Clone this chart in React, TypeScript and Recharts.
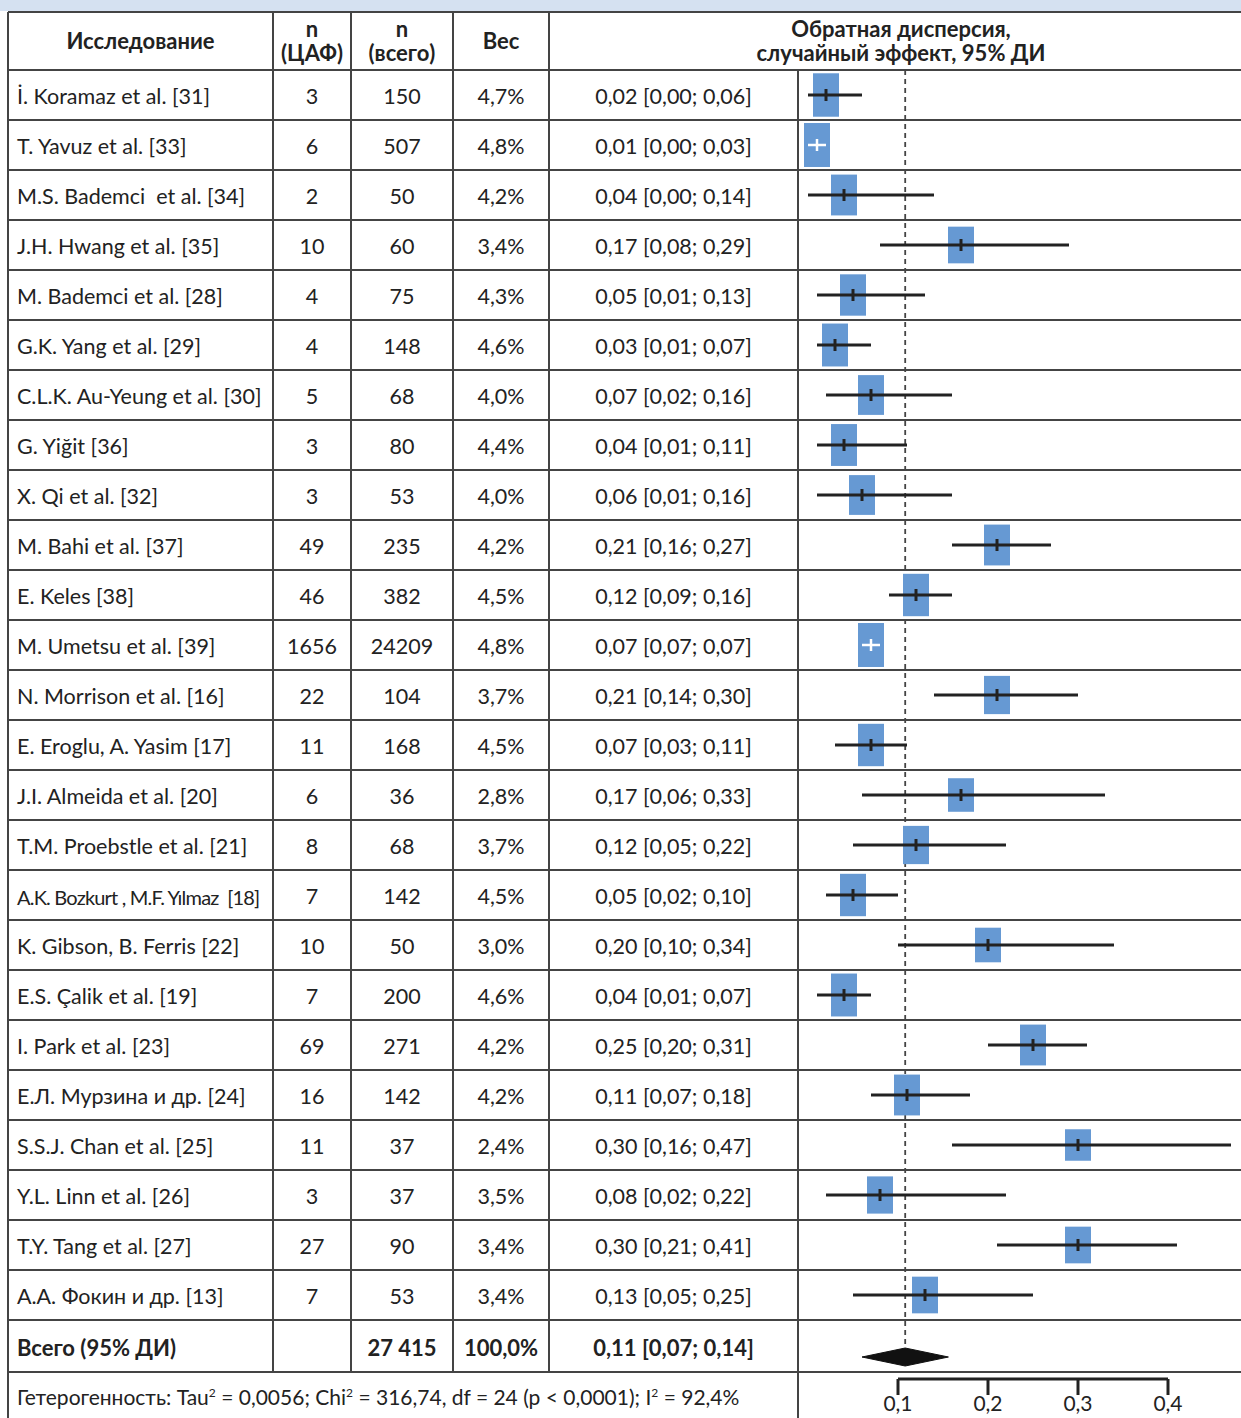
import React from "react";
import { ComposedChart, Scatter, XAxis, YAxis, ReferenceLine } from "recharts";

const studies = [
  "İ. Koramaz et al. [31]",
  "T. Yavuz et al. [33]",
  "M.S. Bademci  et al. [34]",
  "J.H. Hwang et al. [35]",
  "M. Bademci et al. [28]",
  "G.K. Yang et al. [29]",
  "C.L.K. Au-Yeung et al. [30]",
  "G. Yiğit [36]",
  "X. Qi et al. [32]",
  "M. Bahi et al. [37]",
  "E. Keles [38]",
  "M. Umetsu et al. [39]",
  "N. Morrison et al. [16]",
  "E. Eroglu, A. Yasim [17]",
  "J.I. Almeida et al. [20]",
  "T.M. Proebstle et al. [21]",
  "A.K. Bozkurt , M.F. Yılmaz  [18]",
  "K. Gibson, B. Ferris [22]",
  "E.S. Çalik et al. [19]",
  "I. Park et al. [23]",
  "Е.Л. Мурзина и др. [24]",
  "S.S.J. Chan et al. [25]",
  "Y.L. Linn et al. [26]",
  "T.Y. Tang et al. [27]",
  "А.А. Фокин и др. [13]",
];
const nCaf = [3, 6, 2, 10, 4, 4, 5, 3, 3, 49, 46, 1656, 22, 11, 6, 8, 7, 10, 7, 69, 16, 11, 3, 27, 7];
const nTotal = [150, 507, 50, 60, 75, 148, 68, 80, 53, 235, 382, 24209, 104, 168, 36, 68, 142, 50, 200, 271, 142, 37, 37, 90, 53];
const weights = [4.7, 4.8, 4.2, 3.4, 4.3, 4.6, 4.0, 4.4, 4.0, 4.2, 4.5, 4.8, 3.7, 4.5, 2.8, 3.7, 4.5, 3.0, 4.6, 4.2, 4.2, 2.4, 3.5, 3.4, 3.4];
const estimates = [0.02, 0.01, 0.04, 0.17, 0.05, 0.03, 0.07, 0.04, 0.06, 0.21, 0.12, 0.07, 0.21, 0.07, 0.17, 0.12, 0.05, 0.2, 0.04, 0.25, 0.11, 0.3, 0.08, 0.3, 0.13];
const lower = [0.0, 0.0, 0.0, 0.08, 0.01, 0.01, 0.02, 0.01, 0.01, 0.16, 0.09, 0.07, 0.14, 0.03, 0.06, 0.05, 0.02, 0.1, 0.01, 0.2, 0.07, 0.16, 0.02, 0.21, 0.05];
const upper = [0.06, 0.03, 0.14, 0.29, 0.13, 0.07, 0.16, 0.11, 0.16, 0.27, 0.16, 0.07, 0.3, 0.11, 0.33, 0.22, 0.1, 0.34, 0.07, 0.31, 0.18, 0.47, 0.22, 0.41, 0.25];

// pooled result as printed, and the diamond as drawn (lo, est, hi)
const pooledText = [0.11, 0.07, 0.14];
const pooledDiamond = [0.06, 0.108, 0.156];
const axisTicks = [0.1, 0.2, 0.3, 0.4];

const FONT = "Lato, 'Open Sans', sans-serif";
const LINE = "#444";
const BOX = "#6699d3";
const INK = "#222";

const ROW_H = 50;
const BODY_TOP = 70;
const HEAD_TOP = 12;
const colX = [8, 273, 351, 453, 549, 798];

const dec = (v: number, d: number) => v.toFixed(d).replace(".", ",");

const points = estimates.map((est, i) => ({
  x: est,
  y: i + 0.5,
  w: weights[i],
  inside: upper[i] - lower[i] <= 0.03,
}));
const whitePts = points.filter((p) => p.inside);

// three points per study (lo, est, hi) for the CI lines
const ciPts = estimates.flatMap((est, i) =>
  upper[i] - lower[i] <= 0.03
    ? []
    : [
        { x: lower[i], y: i + 0.5, kind: "lo" },
        { x: est, y: i + 0.5, kind: "est" },
        { x: upper[i], y: i + 0.5, kind: "hi" },
      ]
);

const totalRowY = studies.length; // 25
const diamondPts = [
  { x: pooledDiamond[0], y: totalRowY + 0.74 },
  { x: pooledDiamond[1], y: totalRowY + 0.56 },
  { x: pooledDiamond[2], y: totalRowY + 0.74 },
  { x: pooledDiamond[1], y: totalRowY + 0.92 },
];

const BoxShape = (props: any) => {
  const { cx, cy, payload } = props;
  const w = 26;
  const h = 19 + payload.w * 5.2;
  return <rect x={cx - w / 2} y={cy - h / 2} width={w} height={h} fill={BOX} />;
};

const TickShape = (props: any) => {
  const { cx, cy, payload } = props;
  if (payload.kind !== "est") return <g />;
  return <line x1={cx} x2={cx} y1={cy - 6} y2={cy + 6} stroke={INK} strokeWidth={3} />;
};

const CISegments = (props: any) => {
  const pts = props.points || [];
  const segs = [];
  for (let k = 0; k + 2 < pts.length; k += 3) {
    segs.push(
      <line key={k} x1={pts[k].x} x2={pts[k + 2].x} y1={pts[k].y} y2={pts[k + 2].y} stroke={INK} strokeWidth={2.8} />
    );
  }
  return <g>{segs}</g>;
};

const CrossShape = (props: any) => {
  const { cx, cy } = props;
  return (
    <g stroke="#fff" strokeWidth={2.5}>
      <line x1={cx - 9} x2={cx + 9} y1={cy} y2={cy} />
      <line x1={cx} x2={cx} y1={cy - 6} y2={cy + 6} />
    </g>
  );
};

const Diamond = (props: any) => {
  const pts = (props.points || []).map((p: any) => `${p.x},${p.y}`).join(" ");
  return <polygon points={pts} fill="#111" stroke="#111" />;
};

const Cell = ({ x1, x2, y, h, align = "center", bold = false, children, size = 21.5, spacing = 0, shift = 2 }: any) => (
  <div
    style={{
      position: "absolute",
      left: x1,
      top: y + shift,
      width: x2 - x1,
      height: h,
      display: "flex",
      alignItems: "center",
      justifyContent: align === "left" ? "flex-start" : "center",
      paddingLeft: align === "left" ? 9 : 0,
      boxSizing: "border-box",
      fontFamily: FONT,
      fontSize: size,
      fontWeight: bold ? 700 : 400,
      letterSpacing: spacing,
      color: INK,
      whiteSpace: "pre",
      textAlign: "center",
      lineHeight: 1.1,
    }}
  >
    {children}
  </div>
);

const HLine = ({ y, x1, x2 }: any) => (
  <div style={{ position: "absolute", left: x1, top: y - 1, width: x2 - x1, height: 2, background: LINE }} />
);
const VLine = ({ x, y1, y2 }: any) => (
  <div style={{ position: "absolute", left: x - 1, top: y1, width: 2, height: y2 - y1, background: LINE }} />
);

export default function App() {
  const totalTop = BODY_TOP + studies.length * ROW_H;
  const totalBottom = totalTop + 52;
  const sumN = nTotal.reduce((a, b) => a + b, 0);
  const sumNLabel = String(sumN).replace(/\B(?=(\d{3})+(?!\d))/g, " ");
  const sup = { fontSize: 12 };
  const headH = BODY_TOP - HEAD_TOP;

  return (
    <div style={{ position: "absolute", left: 0, top: 0, width: 1241, height: 1418, background: "#fff", overflow: "hidden" }}>
      <div style={{ position: "absolute", left: 0, top: 0, width: 1241, height: HEAD_TOP - 1, background: "#d5e1f1" }} />

      {/* header */}
      <Cell x1={colX[0]} x2={colX[1]} y={HEAD_TOP} h={headH} bold size={22} shift={0}>Исследование</Cell>
      <Cell x1={colX[1]} x2={colX[2]} y={HEAD_TOP} h={headH} bold size={22} shift={0}>{"n\n(ЦАФ)"}</Cell>
      <Cell x1={colX[2]} x2={colX[3]} y={HEAD_TOP} h={headH} bold size={22} shift={0}>{"n\n(всего)"}</Cell>
      <Cell x1={colX[3]} x2={colX[4]} y={HEAD_TOP} h={headH} bold size={22} shift={0}>Вес</Cell>
      <Cell x1={colX[4]} x2={1253} y={HEAD_TOP} h={headH} bold size={22} shift={0}>{"Обратная дисперсия,\nслучайный эффект, 95% ДИ"}</Cell>

      {studies.map((s, i) => {
        const y = BODY_TOP + i * ROW_H;
        const long = s.length > 28;
        return (
          <React.Fragment key={s}>
            <Cell x1={colX[0]} x2={colX[1]} y={y} h={ROW_H} align="left" size={long ? 20 : 21.5} spacing={long ? -0.8 : 0}>
              {s}
            </Cell>
            <Cell x1={colX[1]} x2={colX[2]} y={y} h={ROW_H}>{nCaf[i]}</Cell>
            <Cell x1={colX[2]} x2={colX[3]} y={y} h={ROW_H}>{nTotal[i]}</Cell>
            <Cell x1={colX[3]} x2={colX[4]} y={y} h={ROW_H}>{dec(weights[i], 1) + "%"}</Cell>
            <Cell x1={colX[4]} x2={colX[5]} y={y} h={ROW_H}>
              {`${dec(estimates[i], 2)} [${dec(lower[i], 2)}; ${dec(upper[i], 2)}]`}
            </Cell>
          </React.Fragment>
        );
      })}

      {/* total */}
      <Cell x1={colX[0]} x2={colX[1]} y={totalTop} h={52} align="left" bold size={22}>Всего (95% ДИ)</Cell>
      <Cell x1={colX[2]} x2={colX[3]} y={totalTop} h={52} bold size={22}>{sumNLabel}</Cell>
      <Cell x1={colX[3]} x2={colX[4]} y={totalTop} h={52} bold size={22}>100,0%</Cell>
      <Cell x1={colX[4]} x2={colX[5]} y={totalTop} h={52} bold size={22}>
        {`${dec(pooledText[0], 2)} [${dec(pooledText[1], 2)}; ${dec(pooledText[2], 2)}]`}
      </Cell>

      {/* heterogeneity */}
      <Cell x1={colX[0]} x2={colX[5]} y={totalBottom} h={1418 - totalBottom} align="left" size={21}>
        <span>
          Гетерогенность: Tau<sup style={sup}>2</sup> = 0,0056; Chi<sup style={sup}>2</sup> = 316,74, df = 24 (p &lt; 0,0001); I<sup style={sup}>2</sup> = 92,4%
        </span>
      </Cell>

      {/* grid */}
      <HLine y={HEAD_TOP} x1={colX[0]} x2={1241} />
      {Array.from({ length: studies.length + 1 }, (_, k) => (
        <HLine key={k} y={BODY_TOP + k * ROW_H} x1={colX[0]} x2={1241} />
      ))}
      <HLine y={totalBottom} x1={colX[0]} x2={1241} />
      <VLine x={colX[0]} y1={HEAD_TOP} y2={1418} />
      {colX.slice(1, 5).map((x) => (
        <VLine key={x} x={x} y1={HEAD_TOP} y2={totalBottom} />
      ))}
      <VLine x={colX[5]} y1={BODY_TOP} y2={1418} />

      <div style={{ position: "absolute", left: 798, top: BODY_TOP }}>
        <ComposedChart width={443} height={1348} margin={{ top: 0, right: 0, bottom: 0, left: 0 }}>
          <XAxis
            type="number"
            dataKey="x"
            domain={[-10 / 900, 433 / 900]}
            allowDataOverflow
            ticks={axisTicks}
            interval={0}
            height={39}
            axisLine={false}
            tickLine={{ stroke: INK, strokeWidth: 3 }}
            tickSize={16}
            tickMargin={1}
            tick={{ fontSize: 21, fill: INK, fontFamily: FONT }}
            tickFormatter={(v: number) => dec(v, 1)}
          />
          <YAxis type="number" dataKey="y" domain={[0, 1309 / ROW_H]} reversed hide allowDataOverflow />
          <ReferenceLine
            segment={[{ x: pooledDiamond[1], y: 0 }, { x: pooledDiamond[1], y: totalRowY + 0.56 }]}
            stroke="#444"
            strokeWidth={1.8}
            strokeDasharray="5 4"
          />
          <ReferenceLine
            segment={[{ x: axisTicks[0], y: 1309 / ROW_H }, { x: axisTicks[axisTicks.length - 1], y: 1309 / ROW_H }]}
            stroke={INK}
            strokeWidth={3}
            ifOverflow="visible"
          />
          <Scatter data={points} shape={BoxShape} isAnimationActive={false} zIndex={500} />
          <Scatter
            data={ciPts}
            shape={TickShape}
            line={CISegments}
            lineType="joint"
            isAnimationActive={false}
            zIndex={700}
          />
          <Scatter data={whitePts} shape={CrossShape} isAnimationActive={false} zIndex={700} />
          <Scatter
            data={diamondPts}
            shape={() => <g />}
            line={Diamond}
            lineType="joint"
            isAnimationActive={false}
          />
        </ComposedChart>
      </div>
    </div>
  );
}
